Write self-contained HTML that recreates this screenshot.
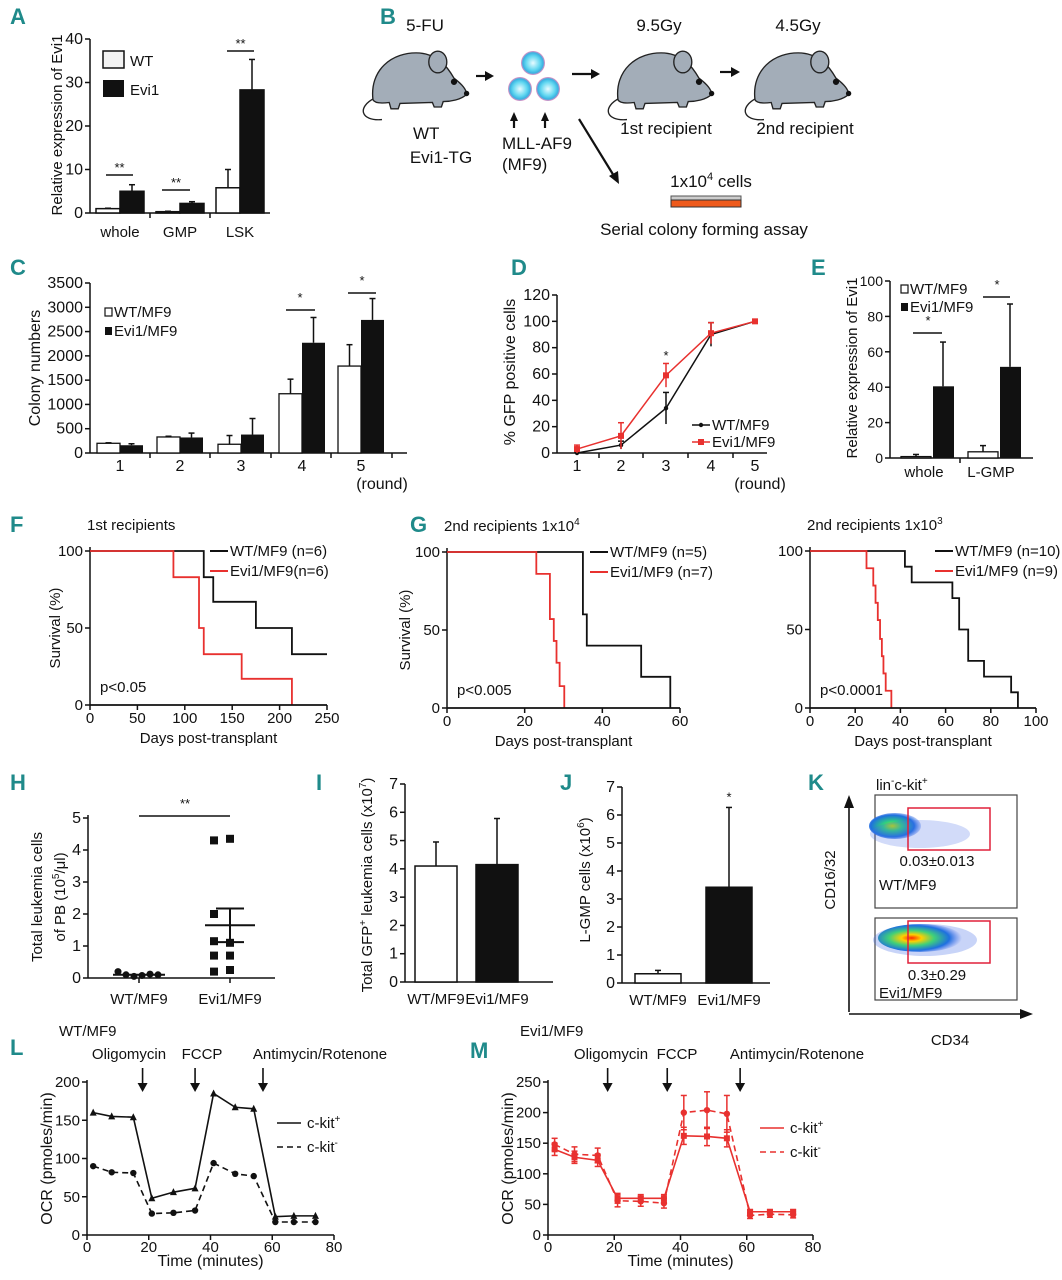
<!DOCTYPE html>
<html><head><meta charset="utf-8"><style>
html,body{margin:0;padding:0;background:#fff;}
svg{display:block;font-family:"Liberation Sans",sans-serif;}
.pl{font-family:"Liberation Sans Narrow","Liberation Sans",sans-serif;font-weight:bold;fill:#1f8a8a;font-size:22px;}
</style></head><body>
<svg id="fig" width="1062" height="1280" viewBox="0 0 1062 1280" xmlns="http://www.w3.org/2000/svg">
<defs>
<radialGradient id="dens" cx="0.4" cy="0.5" r="0.6">
<stop offset="0" stop-color="#ff2a00"/><stop offset="0.2" stop-color="#ffd000"/><stop offset="0.45" stop-color="#3fd07a"/><stop offset="0.75" stop-color="#1e6fe0"/><stop offset="1" stop-color="#4a6fe8" stop-opacity="0"/>
</radialGradient>
<radialGradient id="dens1" cx="0.45" cy="0.5" r="0.6">
<stop offset="0" stop-color="#c8e000"/><stop offset="0.3" stop-color="#2fd080"/><stop offset="0.7" stop-color="#1e6fe0"/><stop offset="1" stop-color="#4a6fe8" stop-opacity="0"/>
</radialGradient>
<radialGradient id="cell" cx="0.5" cy="0.5" r="0.5">
<stop offset="0" stop-color="#e8fbff"/><stop offset="0.6" stop-color="#5fd6f0"/><stop offset="0.85" stop-color="#3ab0e0"/><stop offset="1" stop-color="#f08cc0"/>
</radialGradient>
</defs>
</svg>
<script>
// ---------- data ----------
const aCats=["whole","GMP","LSK"];
const aWT=[1,0.3,5.8];
const aWTerr=[1.1,0.4,10];
const aEvi=[5,2.2,28.3];
const aEvierr=[6.5,2.6,35.3];
const aTicks=[0,10,20,30,40];

const cCats=["1","2","3","4","5"];
const cWT=[200,330,180,1220,1790];
const cWTerr=[210,345,360,1520,2230];
const cEvi=[160,320,380,2270,2740];
const cEvierr=[190,410,710,2790,3180];
const cTicks=[0,500,1000,1500,2000,2500,3000,3500];

const dCats=["1","2","3","4","5"];
const dWT=[0,6,34,90,100];
const dWTerr=[1,3,12,9,1];
const dEvi=[3,13,59,91,100];
const dEvierr=[3,10,9,8,1];
const dTicks=[0,20,40,60,80,100,120];

const eCats=["whole","L-GMP"];
const eWT=[0.8,3.5];
const eWTerr=[2,7];
const eEvi=[40.5,51.5];
const eEvierr=[65.5,87];
const eTicks=[0,20,40,60,80,100];

const fWTt=[0,120,130,175,213,250];
const fWTs=[100,83,67,50,33,33];
const fEvit=[0,88,115,120,160,213];
const fEvis=[100,83,50,33,17,0];
const fTicks=[0,50,100,150,200,250];

const g1WTt=[0,35,36,50,57.5];
const g1WTs=[100,60,40,20,0];
const g1Evit=[0,23,26.5,27.5,28.2,29,30.2];
const g1Evis=[100,86,57,43,29,14,0];
const g1Ticks=[0,20,40,60];

const g2WTt=[0,42,45,63,66,70,77,89,92];
const g2WTs=[100,90,80,70,50,30,20,10,0];
const g2Evit=[0,25,28,29,30,31,31.8,32.5,33.5,36];
const g2Evis=[100,89,78,67,56,44,33,22,11,0];
const g2Ticks=[0,20,40,60,80,100];
const sTicks=[0,50,100];

const hWT=[0.2,0.1,0.05,0.08,0.12,0.1];
const hEvi=[4.3,4.35,2.0,1.1,1.15,0.7,0.7,0.25,0.2];
const hEviMean=1.65, hEviHi=2.17, hEviLo=1.12, hWTMean=0.1;
const hTicks=[0,1,2,3,4,5];

const iVals=[4.1,4.15];
const iErr=[4.95,5.78];
const jVals=[0.33,3.42];
const jErr=[0.45,6.27];
const ijTicks=[0,1,2,3,4,5,6,7];
const ijCats=["WT/MF9","Evi1/MF9"];

const ocrT=[2,8,15,21,28,35,41,48,54,61,67,74];
const lPlus=[160,155,154,48,56,61,185,167,165,24,25,25];
const lMinus=[90,82,81,28,29,32,94,80,77,17,17,17];
const mPlus=[140,127,122,60,60,60,162,161,158,38,38,38];
const mPlusErr=[10,10,10,8,6,6,14,15,14,3,3,3];
const mMinus=[148,132,130,56,55,52,200,204,198,32,34,33];
const mMinusErr=[10,12,12,10,8,8,28,30,30,5,5,5];
const injT=[18,35,57];
const mInjT=[18,36,58];
const tTicks=[0,20,40,60,80];
const lTicks=[0,50,100,150,200];
const mTicks=[0,50,100,150,200,250];

// ---------- helpers ----------
const NS="http://www.w3.org/2000/svg";
const svg=document.getElementById('fig');
function mk(tag,attrs,name,parent){
  const el=document.createElementNS(NS,tag);
  for(const k in attrs) el.setAttribute(k,attrs[k]);
  
  
  (parent||svg).appendChild(el);
  return el;
}
function tx(x,y,s,name,o,parent){
  o=o||{};
  const a={x:x,y:y,'font-size':o.fs||15,fill:o.fill||'#111','text-anchor':o.anchor||'start'};
  if(o.rot) a.transform='rotate(-90 '+x+' '+y+')';
  if(o.cls) a['class']=o.cls;
  const el=mk('text',a,name,parent);
  el.innerHTML=s;
  return el;
}
function lin(d0,d1,r0,r1){return v=>r0+(v-d0)*(r1-r0)/(d1-d0);}
function line(x1,y1,x2,y2,name,o,parent){
  o=o||{};
  return mk('line',{x1:x1,y1:y1,x2:x2,y2:y2,stroke:o.stroke||'#111','stroke-width':o.w||1.5,'stroke-dasharray':o.dash||'none'},name,parent);
}
function yAxis(g,x,sc,ticks,yb,yt,fs){
  line(x,yb,x,yt,'y-axis-line',{},g);
  ticks.forEach(t=>{
    line(x-5,sc(t),x,sc(t),'y-tick',{},g);
    tx(x-7,sc(t)+5,String(t),'y-tick-label',{anchor:'end',fs:fs||16},g);
  });
}
function errBar(g,x,y0,y1,name,col){
  line(x,y0,x,y1,name,{stroke:col||'#111'},g);
  line(x-3,y1,x+3,y1,name+'-cap',{stroke:col||'#111'},g);
}
function panelLabel(x,y,s){
  tx(x,y,s,'panel-label-'+s.toLowerCase(),{cls:'pl',fs:22});
}
function stepPath(g,ts,ss,end,xs,ys,col,name){
  let d='M'+xs(ts[0])+' '+ys(ss[0]);
  for(let i=1;i<ts.length;i++){d+=' H'+xs(ts[i])+' V'+ys(ss[i]);}
  d+=' H'+xs(end);
  return mk('path',{d:d,fill:'none',stroke:col,'stroke-width':1.8},name,g);
}
function arrowDown(g,x,y0,y1){
  line(x,y0,x,y1-6,'arrow-shaft',{w:1.6},g);
  mk('polygon',{points:(x-5)+','+(y1-9)+' '+(x+5)+','+(y1-9)+' '+x+','+y1,fill:'#111'},'arrow-head',g);
}

// ---------- Panel A ----------
panelLabel(10,24,'A');
(function(){
  const g=mk('g',{},'panel-a');
  const ys=lin(0,40,213,39);
  yAxis(g,90,ys,aTicks,213,39);
  line(90,213,270,213,'x-axis-line',{},g);
  [150,210].forEach(x=>line(x,213,x,218,'x-tick',{},g));
  const cx=[120,180,240];
  aCats.forEach((c,i)=>{
    mk('rect',{x:cx[i]-24,y:ys(aWT[i]),width:24,height:213-ys(aWT[i]),fill:'#fff',stroke:'#111','stroke-width':1.5},'bar-wt-'+c,g);
    errBar(g,cx[i]-12,ys(aWT[i]),ys(aWTerr[i]),'error-bar-wt');
    mk('rect',{x:cx[i],y:ys(aEvi[i]),width:24,height:213-ys(aEvi[i]),fill:'#111',stroke:'#111','stroke-width':1.5},'bar-evi1-'+c,g);
    errBar(g,cx[i]+12,ys(aEvi[i]),ys(aEvierr[i]),'error-bar-evi1');
    tx(cx[i],237,c,'x-tick-label',{anchor:'middle'},g);
  });
  [[106,133,175],[162,190,190],[227,254,51]].forEach((s,i)=>{
    line(s[0],s[2],s[1],s[2],'significance-line',{},g);
    tx((s[0]+s[1])/2,s[2]-3,'**','significance-stars',{anchor:'middle',fs:13},g);
  });
  mk('rect',{x:103,y:51,width:21,height:17,fill:'#f2f2f2',stroke:'#111','stroke-width':1.5},'legend-swatch-wt',g);
  tx(130,66,'WT','legend-label-wt',{},g);
  mk('rect',{x:103,y:80,width:21,height:17,fill:'#111'},'legend-swatch-evi1',g);
  tx(130,95,'Evi1','legend-label-evi1',{},g);
  tx(62,125,'Relative expression of  Evi1','y-axis-title',{rot:1,anchor:'middle'},g);
})();

// ---------- Panel B ----------
panelLabel(380,24,'B');
(function(){
  const g=mk('g',{},'panel-b-schematic');
  function mouse(ox,oy,name){
    const m=mk('g',{transform:'translate('+ox+','+oy+') scale(0.9)'},name,g);
    mk('path',{d:'M12 60 C-8 70 -4 86 20 84',fill:'none',stroke:'#222','stroke-width':1.5},'mouse-tail',m);
    mk('path',{d:'M10 62 C6 30 30 8 62 10 C82 12 92 24 100 38 C108 44 114 50 114 56 C108 62 96 64 88 64 L86 70 L78 70 L76 65 L40 66 L38 72 L30 72 L28 65 C20 66 12 66 10 62 Z',fill:'#a3adb8',stroke:'#222','stroke-width':1.5},'mouse-body',m);
    mk('ellipse',{cx:82,cy:20,rx:10,ry:12,fill:'#a3adb8',stroke:'#222','stroke-width':1.5},'mouse-ear',m);
    mk('circle',{cx:100,cy:42,r:3.5,fill:'#111'},'mouse-eye',m);
    mk('circle',{cx:114,cy:55,r:3,fill:'#111'},'mouse-nose',m);
  }
  mouse(364,44,'donor-mouse');
  mouse(609,44,'first-recipient-mouse');
  mouse(746,44,'second-recipient-mouse');
  const F=17;
  tx(425,31,'5-FU','label-5fu',{anchor:'middle',fs:F},g);
  tx(413,139,'WT','label-wt',{fs:F},g);
  tx(441,163,'Evi1-TG','label-evi1-tg',{anchor:'middle',fs:F},g);
  function harrow(x0,x1,y,name){
    line(x0,y,x1-7,y,name,{w:2.2},g);
    mk('polygon',{points:(x1-9)+','+(y-5)+' '+(x1-9)+','+(y+5)+' '+x1+','+y,fill:'#111'},name+'-head',g);
  }
  harrow(476,494,76,'arrow-to-cells');
  harrow(572,600,74,'arrow-to-first');
  harrow(720,740,72,'arrow-to-second');
  [[533,63],[520,89],[548,89]].forEach(p=>mk('circle',{cx:p[0],cy:p[1],r:12,fill:'url(#cell)'},'mf9-cell',g));
  [514,545].forEach(x=>{
    line(x,128,x,120,'up-arrow',{w:2.2},g);
    mk('polygon',{points:(x-4)+',121 '+(x+4)+',121 '+x+',112',fill:'#111'},'up-arrow-head',g);
  });
  tx(537,149,'MLL-AF9','label-mll-af9',{anchor:'middle',fs:F},g);
  tx(502,170,'(MF9)','label-mf9',{fs:F},g);
  tx(659,31,'9.5Gy','label-9-5gy',{anchor:'middle',fs:F},g);
  tx(666,134,'1st recipient','label-1st-recipient',{anchor:'middle',fs:F},g);
  tx(798,31,'4.5Gy','label-4-5gy',{anchor:'middle',fs:F},g);
  tx(805,134,'2nd recipient','label-2nd-recipient',{anchor:'middle',fs:F},g);
  line(579,119,614,176,'arrow-to-assay',{w:2.2},g);
  mk('polygon',{points:'609,176 619,184 618,171',fill:'#111'},'arrow-to-assay-head',g);
  mk('rect',{x:671,y:196,width:70,height:4,fill:'#ccc',stroke:'#555','stroke-width':1},'culture-dish-lid',g);
  mk('rect',{x:671,y:200,width:70,height:7,fill:'#ee5a1c',stroke:'#333','stroke-width':1},'culture-dish',g);
  tx(711,187,'1x10<tspan font-size="11" dy="-7">4</tspan><tspan dy="7"> cells</tspan>','label-cells',{anchor:'middle',fs:F},g);
  tx(704,235,'Serial colony forming assay','label-serial-assay',{anchor:'middle',fs:F},g);
})();

// ---------- Panel C ----------
panelLabel(10,275,'C');
(function(){
  const g=mk('g',{},'panel-c');
  const ys=lin(0,3500,453,283);
  yAxis(g,90,ys,cTicks,453,283);
  line(90,453,407,453,'x-axis-line',{},g);
  const cx=[120,180,241,302,361];
  [150,210,271,331,392].forEach(x=>line(x,453,x,458,'x-tick',{},g));
  cCats.forEach((c,i)=>{
    mk('rect',{x:cx[i]-23,y:ys(cWT[i]),width:23,height:453-ys(cWT[i]),fill:'#fff',stroke:'#111','stroke-width':1.3},'bar-wt-round-'+c,g);
    errBar(g,cx[i]-11.5,ys(cWT[i]),ys(cWTerr[i]),'error-bar-wt');
    mk('rect',{x:cx[i],y:ys(cEvi[i]),width:23,height:453-ys(cEvi[i]),fill:'#111'},'bar-evi1-round-'+c,g);
    errBar(g,cx[i]+11.5,ys(cEvi[i]),ys(cEvierr[i]),'error-bar-evi1');
    tx(cx[i],471,c,'x-tick-label',{anchor:'middle',fs:16},g);
  });
  tx(382,489,'(round)','x-axis-unit',{anchor:'middle',fs:16},g);
  line(286,310,315,310,'significance-line',{},g);
  tx(300,302,'*','significance-star',{anchor:'middle',fs:13},g);
  line(348,293,376,293,'significance-line',{},g);
  tx(362,285,'*','significance-star',{anchor:'middle',fs:13},g);
  mk('rect',{x:105,y:308,width:7,height:8,fill:'#fff',stroke:'#111','stroke-width':1.2},'legend-swatch-wt',g);
  tx(114,317,'WT/MF9','legend-label-wt',{},g);
  mk('rect',{x:105,y:327,width:7,height:8,fill:'#111'},'legend-swatch-evi1',g);
  tx(114,336,'Evi1/MF9','legend-label-evi1',{},g);
  tx(40,368,'Colony numbers','y-axis-title',{rot:1,anchor:'middle',fs:16},g);
})();

// ---------- Panel D ----------
panelLabel(511,275,'D');
(function(){
  const g=mk('g',{},'panel-d');
  const ys=lin(0,120,453,295);
  yAxis(g,557,ys,dTicks,453,295);
  line(557,453,767,453,'x-axis-line',{},g);
  const cx=[577,621,666,711,755];
  [599,643,688,733].forEach(x=>line(x,453,x,458,'x-tick',{},g));
  dCats.forEach((c,i)=>tx(cx[i],471,c,'x-tick-label',{anchor:'middle',fs:16},g));
  tx(760,489,'(round)','x-axis-unit',{anchor:'middle',fs:16},g);
  mk('polyline',{points:dWT.map((v,i)=>cx[i]+','+ys(v)).join(' '),fill:'none',stroke:'#111','stroke-width':1.5},'line-wt',g);
  mk('polyline',{points:dEvi.map((v,i)=>cx[i]+','+ys(v)).join(' '),fill:'none',stroke:'#e8312f','stroke-width':1.5},'line-evi1',g);
  dWT.forEach((v,i)=>{
    errBar(g,cx[i],ys(v-dWTerr[i]),ys(v+dWTerr[i]),'error-bar-wt');
    mk('circle',{cx:cx[i],cy:ys(v),r:2.2,fill:'#111'},'point-wt',g);
  });
  dEvi.forEach((v,i)=>{
    errBar(g,cx[i],ys(v-dEvierr[i]),ys(v+dEvierr[i]),'error-bar-evi1','#e8312f');
    mk('rect',{x:cx[i]-3,y:ys(v)-3,width:6,height:6,fill:'#e8312f'},'point-evi1',g);
  });
  tx(666,360,'*','significance-star',{anchor:'middle',fs:13},g);
  line(692,425,710,425,'legend-line-wt',{},g);
  mk('circle',{cx:701,cy:425,r:2.2,fill:'#111'},'legend-marker-wt',g);
  tx(712,430,'WT/MF9','legend-label-wt',{},g);
  line(692,442,710,442,'legend-line-evi1',{stroke:'#e8312f'},g);
  mk('rect',{x:698,y:439,width:6,height:6,fill:'#e8312f'},'legend-marker-evi1',g);
  tx(712,447,'Evi1/MF9','legend-label-evi1',{},g);
  tx(515,372,'% GFP positive cells','y-axis-title',{rot:1,anchor:'middle',fs:16},g);
})();

// ---------- Panel E ----------
panelLabel(811,275,'E');
(function(){
  const g=mk('g',{},'panel-e');
  const ys=lin(0,100,458,281);
  yAxis(g,890,ys,eTicks,458,281,14);
  line(890,458,1033,458,'x-axis-line',{},g);
  line(960,458,960,463,'x-tick',{},g);
  const cx=[932,999];
  eCats.forEach((c,i)=>{
    mk('rect',{x:cx[i]-31,y:ys(eWT[i]),width:30,height:458-ys(eWT[i]),fill:'#fff',stroke:'#111','stroke-width':1.3},'bar-wt-'+c,g);
    errBar(g,cx[i]-16,ys(eWT[i]),ys(eWTerr[i]),'error-bar-wt');
    mk('rect',{x:cx[i]+1,y:ys(eEvi[i]),width:21,height:458-ys(eEvi[i]),fill:'#111'},'bar-evi1-'+c,g);
    errBar(g,cx[i]+11,ys(eEvi[i]),ys(eEvierr[i]),'error-bar-evi1');
    tx(cx[i]-8,477,c,'x-tick-label',{anchor:'middle'},g);
  });
  line(913,333,942,333,'significance-line',{},g);
  tx(928,325,'*','significance-star',{anchor:'middle',fs:13},g);
  line(983,297,1010,297,'significance-line',{},g);
  tx(997,289,'*','significance-star',{anchor:'middle',fs:13},g);
  mk('rect',{x:901,y:285,width:7,height:8,fill:'#fff',stroke:'#111','stroke-width':1.2},'legend-swatch-wt',g);
  tx(910,294,'WT/MF9','legend-label-wt',{},g);
  mk('rect',{x:901,y:303,width:7,height:8,fill:'#111'},'legend-swatch-evi1',g);
  tx(910,312,'Evi1/MF9','legend-label-evi1',{},g);
  tx(857,368,'Relative expression of  Evi1','y-axis-title',{rot:1,anchor:'middle'},g);
})();

// ---------- Survival panels ----------
function survival(id,x0,x1,yTop,yBot,dmax,ticks,wt,evi,title,nW,nE,p,lx){
  const g=mk('g',{},id);
  const xs=lin(0,dmax,x0,x1), ys=lin(0,100,yBot,yTop);
  yAxis(g,x0,ys,sTicks,yBot,yTop-4,15);
  ticks.forEach(t=>{line(xs(t),yBot,xs(t),yBot+5,'x-tick',{},g);tx(xs(t),yBot+18,String(t),'x-tick-label',{anchor:'middle',fs:15},g);});
  stepPath(g,wt[0],wt[1],wt[2],xs,ys,'#111','survival-curve-wt');
  stepPath(g,evi[0],evi[1],evi[2],xs,ys,'#e8312f','survival-curve-evi1');
  line(x0,yBot,x1,yBot,'x-axis-line',{w:1.8},g);
  tx(x0-3,yTop-21,title,'panel-title',{},g);
  line(lx,yTop,lx+18,yTop,'legend-line-wt',{w:2},g);
  tx(lx+20,yTop+5,nW,'legend-label-wt',{},g);
  line(lx,yTop+20,lx+18,yTop+20,'legend-line-evi1',{w:2,stroke:'#e8312f'},g);
  tx(lx+20,yTop+25,nE,'legend-label-evi1',{},g);
  tx(x0+10,yBot-13,p,'p-value',{},g);
  tx((x0+x1)/2,yBot+38,'Days post-transplant','x-axis-title',{anchor:'middle'},g);
  return g;
}
panelLabel(10,532,'F');
(function(){
  const g=survival('panel-f',90,327,551,705,250,fTicks,[fWTt,fWTs,250],[fEvit,fEvis,213],'1st recipients','WT/MF9  (n=6)','Evi1/MF9(n=6)','p&lt;0.05',210);
  tx(60,628,'Survival (%)','y-axis-title',{rot:1,anchor:'middle'},g);
})();
panelLabel(410,532,'G');
(function(){
  const g=survival('panel-g-1e4',447,680,552,708,60,g1Ticks,[g1WTt,g1WTs,57.5],[g1Evit,g1Evis,30.2],'2nd recipients 1x10<tspan font-size="10" dy="-6">4</tspan>','WT/MF9  (n=5)','Evi1/MF9 (n=7)','p&lt;0.005',590);
  tx(410,630,'Survival (%)','y-axis-title',{rot:1,anchor:'middle'},g);
  survival('panel-g-1e3',810,1036,551,708,100,g2Ticks,[g2WTt,g2WTs,92],[g2Evit,g2Evis,36],'2nd recipients 1x10<tspan font-size="10" dy="-6">3</tspan>','WT/MF9  (n=10)','Evi1/MF9 (n=9)','p&lt;0.0001',935);
})();

// ---------- Panel H ----------
panelLabel(10,790,'H');
(function(){
  const g=mk('g',{},'panel-h');
  const ys=lin(0,5,978,818);
  yAxis(g,88,ys,hTicks,978,815);
  line(88,978,275,978,'x-axis-line',{},g);
  [139,230].forEach(x=>line(x,978,x,983,'x-tick',{},g));
  tx(139,1004,'WT/MF9','x-tick-label',{anchor:'middle'},g);
  tx(230,1004,'Evi1/MF9','x-tick-label',{anchor:'middle'},g);
  hWT.forEach((v,i)=>mk('circle',{cx:118+i*8,cy:ys(v),r:3.5,fill:'#111'},'point-wt',g));
  hEvi.forEach((v,i)=>mk('rect',{x:222+((i%2)?8:-8)-4,y:ys(v)-4,width:8,height:8,fill:'#111'},'point-evi1',g));
  line(113,ys(hWTMean),165,ys(hWTMean),'mean-line-wt',{w:2},g);
  line(205,ys(hEviMean),255,ys(hEviMean),'mean-line-evi1',{w:2},g);
  line(230,ys(hEviLo),230,ys(hEviHi),'sem-bar-evi1',{w:2},g);
  line(216,ys(hEviHi),244,ys(hEviHi),'sem-cap-evi1',{w:2},g);
  line(216,ys(hEviLo),244,ys(hEviLo),'sem-cap-evi1',{w:2},g);
  line(139,816,230,816,'significance-line',{},g);
  tx(185,808,'**','significance-stars',{anchor:'middle',fs:13},g);
  tx(42,897,'Total leukemia cells','y-axis-title',{rot:1,anchor:'middle'},g);
  tx(65,897,'of PB (10<tspan font-size="10" dy="-6">5</tspan><tspan dy="6">/μl)</tspan>','y-axis-title-2',{rot:1,anchor:'middle'},g);
})();

// ---------- Panels I, J ----------
function barPair(id,x0,x1,yTop,yBot,vals,errs,cx,w,star){
  const g=mk('g',{},id);
  const ys=lin(0,7,yBot,yTop);
  yAxis(g,x0,ys,ijTicks,yBot,yTop);
  line(x0,yBot,x1,yBot,'x-axis-line',{},g);
  vals.forEach((v,i)=>{
    mk('rect',{x:cx[i]-w/2,y:ys(v),width:w,height:yBot-ys(v),fill:i?'#111':'#fff',stroke:'#111','stroke-width':1.5},'bar-'+(i?'evi1':'wt'),g);
    errBar(g,cx[i],ys(v),ys(errs[i]),'error-bar');
    tx(cx[i],yBot+22,ijCats[i],'x-tick-label',{anchor:'middle'},g);
  });
  if(star) tx(cx[1],ys(errs[1])-6,'*','significance-star',{anchor:'middle',fs:13},g);
  return g;
}
panelLabel(316,790,'I');
(function(){
  const g=barPair('panel-i',405,553,784,982,iVals,iErr,[436,497],42,false);
  tx(372,885,'Total GFP<tspan font-size="10" dy="-6">+</tspan><tspan dy="6"> leukemia cells (x10</tspan><tspan font-size="10" dy="-6">7</tspan><tspan dy="6">)</tspan>','y-axis-title',{rot:1,anchor:'middle'},g);
})();
panelLabel(560,790,'J');
(function(){
  const g=barPair('panel-j',622,770,787,983,jVals,jErr,[658,729],46,true);
  tx(590,880,'L-GMP cells (x10<tspan font-size="10" dy="-6">6</tspan><tspan dy="6">)</tspan>','y-axis-title',{rot:1,anchor:'middle'},g);
})();

// ---------- Panel K ----------
panelLabel(808,790,'K');
(function(){
  const g=mk('g',{},'panel-k');
  tx(876,790,'lin<tspan font-size="10" dy="-6">-</tspan><tspan dy="6">c-kit</tspan><tspan font-size="10" dy="-6">+</tspan>','gate-title',{},g);
  line(849,1012,849,806,'y-axis-arrow',{w:1.6},g);
  mk('polygon',{points:'844,808 854,808 849,795',fill:'#111'},'y-arrow-head',g);
  line(849,1014,1022,1014,'x-axis-arrow',{w:1.6},g);
  mk('polygon',{points:'1020,1009 1020,1019 1033,1014',fill:'#111'},'x-arrow-head',g);
  mk('rect',{x:875,y:795,width:142,height:113,fill:'#fff',stroke:'#444','stroke-width':1.2},'plot-box-wt',g);
  mk('ellipse',{cx:895,cy:826,rx:26,ry:13,fill:'url(#dens1)'},'density-wt',g);
  mk('ellipse',{cx:920,cy:834,rx:50,ry:14,fill:'#4a6fe8',opacity:0.25},'density-scatter-wt',g);
  mk('rect',{x:908,y:808,width:82,height:42,fill:'none',stroke:'#e0203a','stroke-width':1.5},'gate-wt',g);
  tx(937,866,'0.03±0.013','gate-percent-wt',{anchor:'middle'},g);
  tx(879,890,'WT/MF9','sample-label-wt',{},g);
  mk('rect',{x:875,y:918,width:142,height:82,fill:'#fff',stroke:'#444','stroke-width':1.2},'plot-box-evi1',g);
  mk('ellipse',{cx:925,cy:940,rx:52,ry:16,fill:'#4a6fe8',opacity:0.3},'density-scatter-evi1',g);
  mk('ellipse',{cx:920,cy:938,rx:42,ry:14,fill:'url(#dens)'},'density-evi1',g);
  mk('rect',{x:908,y:921,width:82,height:42,fill:'none',stroke:'#e0203a','stroke-width':1.5},'gate-evi1',g);
  tx(937,980,'0.3±0.29','gate-percent-evi1',{anchor:'middle'},g);
  tx(879,998,'Evi1/MF9','sample-label-evi1',{},g);
  tx(835,880,'CD16/32','y-axis-title',{rot:1,anchor:'middle'},g);
  tx(950,1045,'CD34','x-axis-title',{anchor:'middle'},g);
})();

// ---------- Panels L, M ----------
function ocr(id,x0,x1,yTop,yBot,ymax,ticks,plus,minus,pErr,mErr,col,inj,sample,lbl,lx,legY){
  const g=mk('g',{},id);
  const xs=lin(0,80,x0,x1), ys=lin(0,ymax,yBot,yTop);
  yAxis(g,x0,ys,ticks,yBot,yTop-2,15);
  line(x0,yBot,x1,yBot,'x-axis-line',{},g);
  tTicks.forEach(t=>{line(xs(t),yBot,xs(t),yBot+5,'x-tick',{},g);tx(xs(t),yBot+17,String(t),'x-tick-label',{anchor:'middle',fs:15},g);});
  tx((x0+x1)/2,yBot+31,'Time (minutes)','x-axis-title',{anchor:'middle',fs:16},g);
  mk('polyline',{points:plus.map((v,i)=>xs(ocrT[i])+','+ys(v)).join(' '),fill:'none',stroke:col,'stroke-width':1.6},'line-ckit-plus',g);
  mk('polyline',{points:minus.map((v,i)=>xs(ocrT[i])+','+ys(v)).join(' '),fill:'none',stroke:col,'stroke-width':1.6,'stroke-dasharray':'6,4'},'line-ckit-minus',g);
  plus.forEach((v,i)=>{
    if(pErr){ errBar(g,xs(ocrT[i]),ys(v-pErr[i]),ys(v+pErr[i]),'error-bar-plus',col);
      line(xs(ocrT[i])-3,ys(v-pErr[i]),xs(ocrT[i])+3,ys(v-pErr[i]),'error-cap',{stroke:col},g);
      mk('rect',{x:xs(ocrT[i])-3,y:ys(v)-3,width:6,height:6,fill:col},'point-ckit-plus',g);}
    else mk('polygon',{points:(xs(ocrT[i])-3.5)+','+(ys(v)+3)+' '+(xs(ocrT[i])+3.5)+','+(ys(v)+3)+' '+xs(ocrT[i])+','+(ys(v)-4),fill:col},'point-ckit-plus',g);
  });
  minus.forEach((v,i)=>{
    if(mErr){ errBar(g,xs(ocrT[i]),ys(v-mErr[i]),ys(v+mErr[i]),'error-bar-minus',col);
      line(xs(ocrT[i])-3,ys(v-mErr[i]),xs(ocrT[i])+3,ys(v-mErr[i]),'error-cap',{stroke:col},g);}
    mk('circle',{cx:xs(ocrT[i]),cy:ys(v),r:3.2,fill:col},'point-ckit-minus',g);
  });
  inj.forEach(t=>arrowDown(g,xs(t),yTop-14,yTop+10));
  tx(x0-28,1036,sample,'sample-label',{},g);
  lbl.forEach(l=>tx(l[0],1059,l[1],'injection-label',{anchor:'middle'},g));
  line(lx,legY,lx+24,legY,'legend-line-plus',{stroke:col,w:1.6},g);
  tx(lx+30,legY+5,'c-kit<tspan font-size="10" dy="-6">+</tspan>','legend-label-plus',{},g);
  line(lx,legY+24,lx+24,legY+24,'legend-line-minus',{stroke:col,w:1.6,dash:'6,4'},g);
  tx(lx+30,legY+29,'c-kit<tspan font-size="10" dy="-6">-</tspan>','legend-label-minus',{},g);
  tx(x0-35,(yTop+yBot)/2,'OCR (pmoles/min)','y-axis-title',{rot:1,anchor:'middle',fs:16},g);
}
panelLabel(10,1055,'L');
ocr('panel-l',87,334,1082,1235,200,lTicks,lPlus,lMinus,null,null,'#111',injT,'WT/MF9',[[129,'Oligomycin'],[202,'FCCP'],[320,'Antimycin/Rotenone']],277,1123);
panelLabel(470,1058,'M');
ocr('panel-m',548,813,1082,1235,250,mTicks,mPlus,mMinus,mPlusErr,mMinusErr,'#e8312f',mInjT,'Evi1/MF9',[[611,'Oligomycin'],[677,'FCCP'],[797,'Antimycin/Rotenone']],760,1128);
</script>
</body></html>
